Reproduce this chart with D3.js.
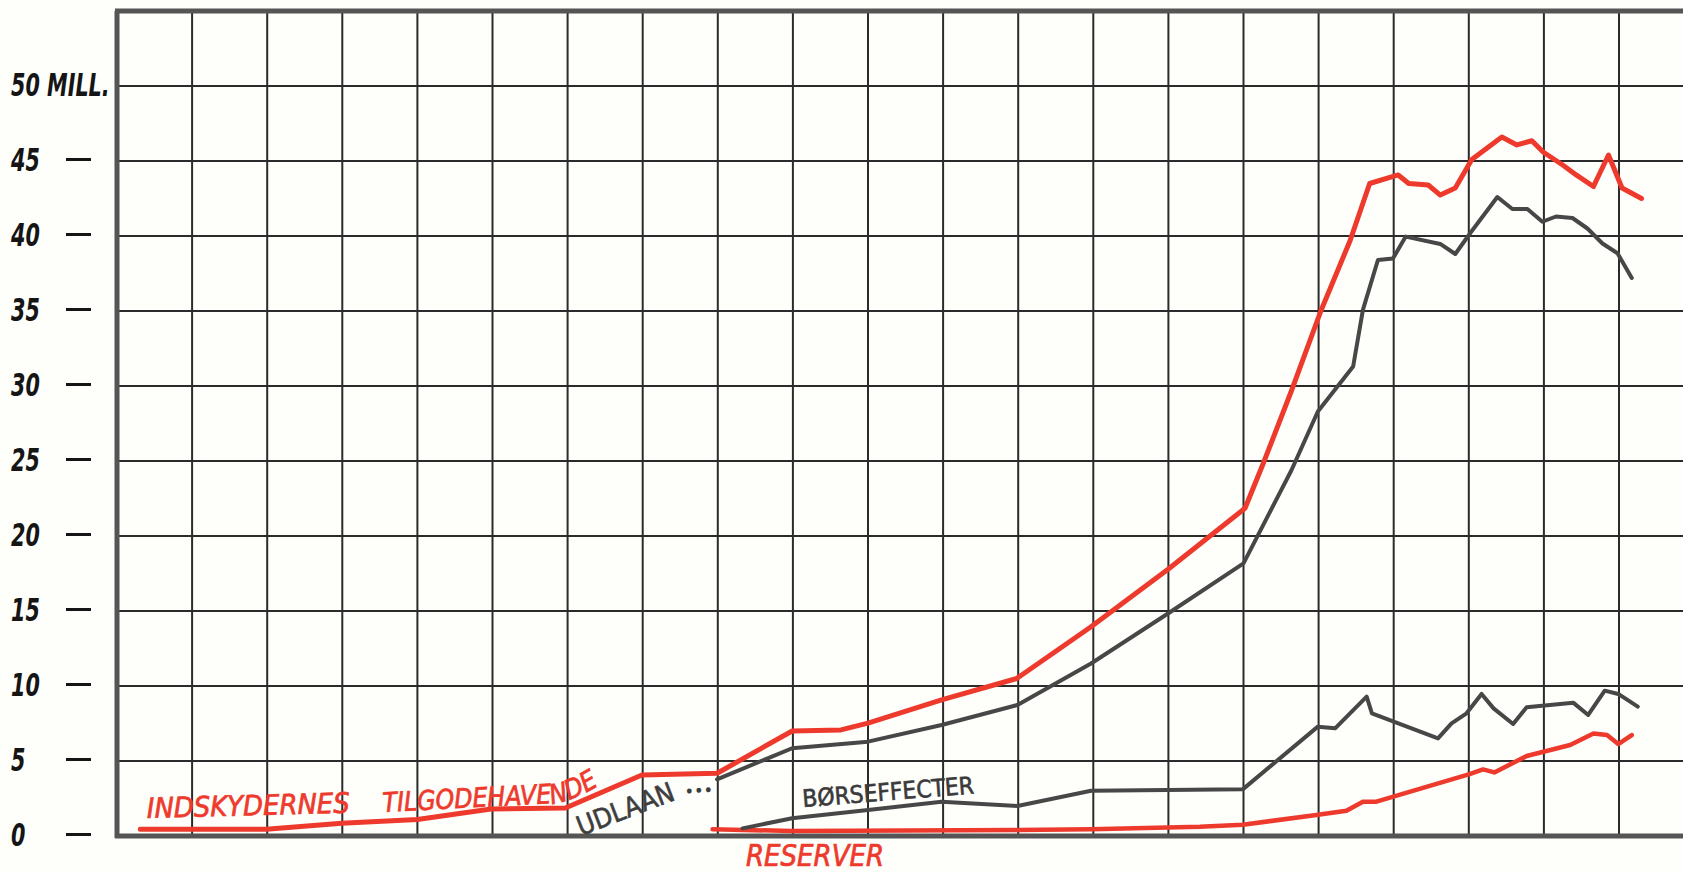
<!DOCTYPE html>
<html>
<head>
<meta charset="utf-8">
<script src="https://cdn.jsdelivr.net/npm/d3@7/dist/d3.min.js"></script>
<style>
  html, body { margin: 0; padding: 0; background: #fefefb; }
  svg { display: block; }
  text { font-family: "DejaVu Sans Condensed", "DejaVu Sans", sans-serif; font-stretch: condensed; }
</style>
</head>
<body>
<svg></svg>
<script>
// time is given in grid columns, values in mill. kroner
const indskydereT = [0.31, 1.99, 2.99, 4.0, 4.98, 5.97, 6.99, 7.99, 8.99, 9.64, 10.0, 10.98, 11.98, 12.97, 14.0,
  15.02, 15.26, 15.64, 16.03, 16.42, 16.68, 17.06, 17.2, 17.46, 17.62, 17.82, 18.04, 18.44, 18.64, 18.84,
  18.99, 19.26, 19.43, 19.66, 19.86, 20.04, 20.3];
const indskydereV = [0.45, 0.45, 0.85, 1.1, 1.8, 1.87, 4.07, 4.18, 7.0, 7.07, 7.53, 9.07, 10.5, 13.95, 17.8,
  21.85, 24.8, 29.7, 35.0, 39.7, 43.5, 44.07, 43.5, 43.4, 42.73, 43.2, 45.1, 46.6, 46.07, 46.35,
  45.6, 44.7, 44.07, 43.3, 45.4, 43.2, 42.5];

const udlaanT = [7.99, 8.99, 10.0, 10.98, 11.99, 12.97, 14.0, 15.0, 15.64, 15.99, 16.46, 16.59, 16.79, 16.99,
  17.16, 17.62, 17.82, 18.02, 18.38, 18.58, 18.78, 18.98, 19.16, 19.38, 19.58, 19.78, 19.98, 20.17];
const udlaanV = [3.78, 5.85, 6.29, 7.4, 8.73, 11.5, 14.85, 18.18, 24.4, 28.3, 31.3, 35.07, 38.4, 38.5,
  39.96, 39.47, 38.8, 40.2, 42.6, 41.8, 41.8, 40.95, 41.3, 41.2, 40.5, 39.5, 38.85, 37.2];

const effecterT = [8.33, 8.99, 10.0, 10.98, 11.99, 12.97, 14.99, 15.99, 16.22, 16.64, 16.71, 17.59, 17.77,
  17.97, 18.17, 18.33, 18.59, 18.77, 19.39, 19.59, 19.81, 19.99, 20.25];
const effecterV = [0.51, 1.18, 1.73, 2.29, 2.0, 3.02, 3.11, 7.29, 7.18, 9.29, 8.18, 6.51, 7.51,
  8.18, 9.47, 8.51, 7.47, 8.58, 8.89, 8.07, 9.69, 9.47, 8.62];

const reserverT = [7.93, 8.99, 11.99, 12.97, 14.42, 14.99, 15.97, 16.37, 16.59, 16.77, 18.01, 18.19, 18.34,
  18.77, 19.35, 19.66, 19.84, 19.99, 20.17];
const reserverV = [0.45, 0.33, 0.4, 0.45, 0.62, 0.75, 1.4, 1.69, 2.29, 2.29, 4.13, 4.44, 4.24,
  5.33, 6.07, 6.84, 6.73, 6.13, 6.73];

const yTicks = [0, 5, 10, 15, 20, 25, 30, 35, 40, 45, 50];
const columns = d3.range(0, 21);

const width = 1683;
const height = 872;
const red = '#ee3a2d';
const grey = '#474747';

const svg = d3.select('svg')
  .attr('width', width)
  .attr('height', height);

const x = d3.scaleLinear().domain([0, 20]).range([117, 1619]);
const y = d3.scaleLinear().domain([0, 55]).range([836, 11]);

// grid
const grid = svg.append('g').classed('grid', true);

grid.selectAll('line.v')
  .data(columns.slice(1))
  .enter()
  .append('line')
  .attr('x1', d => x(d))
  .attr('x2', d => x(d))
  .attr('y1', y(55))
  .attr('y2', y(0))
  .attr('stroke', '#2b2b2b')
  .attr('stroke-width', 2);

grid.selectAll('line.h')
  .data(yTicks.slice(1))
  .enter()
  .append('line')
  .attr('x1', x(0))
  .attr('x2', width)
  .attr('y1', d => y(d))
  .attr('y2', d => y(d))
  .attr('stroke', '#2b2b2b')
  .attr('stroke-width', 2);

// frame
const frame = svg.append('g').attr('stroke', '#555').attr('stroke-width', 5);
frame.append('line').attr('x1', x(0) - 2).attr('x2', width).attr('y1', y(55)).attr('y2', y(55));
frame.append('line').attr('x1', x(0)).attr('x2', x(0)).attr('y1', y(55)).attr('y2', y(0) + 2);
frame.append('line').attr('x1', x(0) - 2).attr('x2', width).attr('y1', y(0)).attr('y2', y(0));

// y axis: detached dashes with left aligned, narrow labels
const squeeze = 0.72;
const axis = svg.append('g')
  .attr('transform', 'translate(91,-2)')
  .call(d3.axisLeft(y)
    .tickValues(yTicks)
    .tickSize(25)
    .tickFormat(d => d === 50 ? '50 MILL.' : d));

axis.select('.domain').remove();
axis.selectAll('.tick line')
  .attr('stroke', '#151515')
  .attr('stroke-width', 3)
  .attr('display', d => d === 50 ? 'none' : null);
axis.selectAll('.tick text')
  .attr('transform', `scale(${squeeze},1)`)
  .attr('x', -80 / squeeze)
  .attr('dy', '0.36em')
  .attr('text-anchor', 'start')
  .attr('fill', '#151515')
  .attr('font-size', 32)
  .attr('font-weight', 'bold')
  .attr('font-style', 'italic')
  .attr('font-family', '"DejaVu Sans Condensed", "DejaVu Sans", sans-serif');

// series
const line = d3.line()
  .x(d => x(d[0]))
  .y(d => y(d[1]));

const series = [
  { t: reserverT, v: reserverV, color: red, w: 4.5 },
  { t: effecterT, v: effecterV, color: grey, w: 4 },
  { t: udlaanT, v: udlaanV, color: grey, w: 4 },
  { t: indskydereT, v: indskydereV, color: red, w: 5 }
];

svg.append('g')
  .classed('lines', true)
  .selectAll('path')
  .data(series)
  .enter()
  .append('path')
  .attr('d', d => line(d3.zip(d.t, d.v)))
  .attr('fill', 'none')
  .attr('stroke', d => d.color)
  .attr('stroke-width', d => d.w)
  .attr('stroke-linejoin', 'round')
  .attr('stroke-linecap', 'round');

// labels
const labels = svg.append('g').classed('labels', true);

labels.append('text')
  .attr('transform', 'translate(147,818) rotate(-1.5)')
  .attr('font-size', 28)
  .attr('font-style', 'italic')
  .attr('fill', red)
  .attr('stroke', red)
  .attr('stroke-width', 0.7)
  .attr('textLength', 203)
  .attr('lengthAdjust', 'spacingAndGlyphs')
  .text('INDSKYDERNES');

svg.append('defs')
  .append('path')
  .attr('id', 'tilgode')
  .attr('d', 'M383,812 L558,803 Q578,799 606,781');

labels.append('text')
  .attr('font-size', 27)
  .attr('font-style', 'italic')
  .attr('fill', red)
  .attr('stroke', red)
  .attr('stroke-width', 0.7)
  .append('textPath')
  .attr('href', '#tilgode')
  .attr('textLength', 220)
  .attr('lengthAdjust', 'spacingAndGlyphs')
  .text('TILGODEHAVENDE');

labels.append('text')
  .attr('transform', 'translate(581,836) rotate(-21)')
  .attr('font-size', 27)
  .attr('fill', '#3d3d3d')
  .attr('stroke', '#3d3d3d')
  .attr('stroke-width', 0.6)
  .attr('textLength', 102)
  .attr('lengthAdjust', 'spacingAndGlyphs')
  .text('UDLAAN');

labels.append('text')
  .attr('transform', 'translate(685,798) rotate(-4)')
  .attr('font-size', 18)
  .attr('fill', '#3d3d3d')
  .text('•••');

labels.append('text')
  .attr('transform', 'translate(803,807) rotate(-4.5)')
  .attr('font-size', 24)
  .attr('fill', '#3a3a3a')
  .attr('stroke', '#3a3a3a')
  .attr('stroke-width', 0.6)
  .attr('textLength', 172)
  .attr('lengthAdjust', 'spacingAndGlyphs')
  .text('BØRSEFFECTER');

labels.append('text')
  .attr('x', 746)
  .attr('y', 866)
  .attr('font-size', 30)
  .attr('font-style', 'italic')
  .attr('fill', red)
  .attr('stroke', red)
  .attr('stroke-width', 0.7)
  .attr('textLength', 138)
  .attr('lengthAdjust', 'spacingAndGlyphs')
  .text('RESERVER');
</script>
</body>
</html>
